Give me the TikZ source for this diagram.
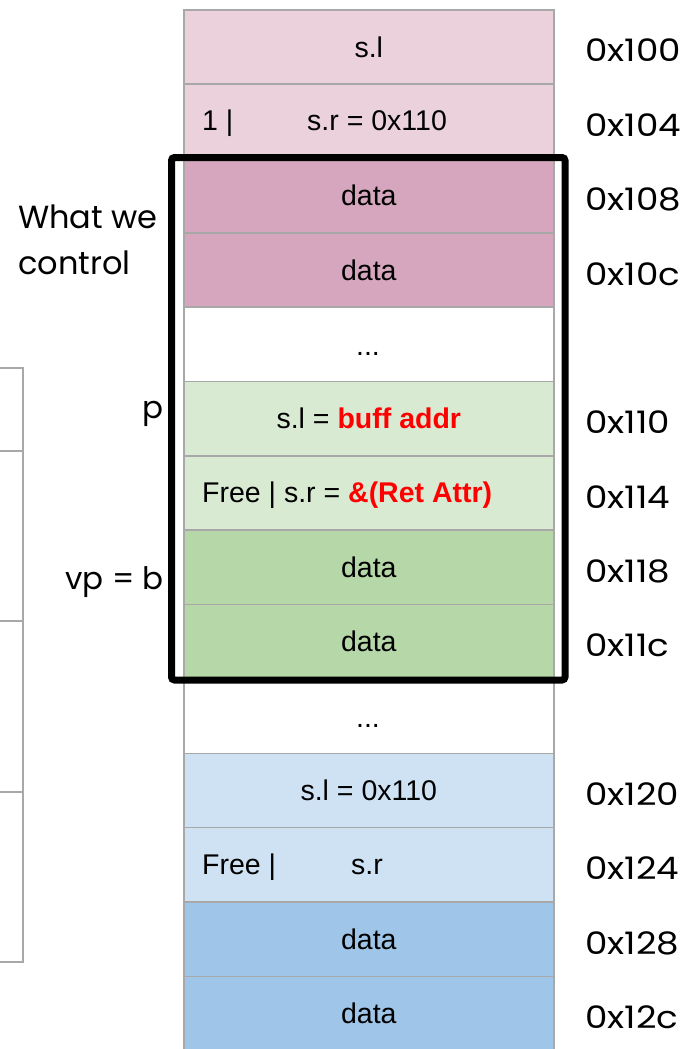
\documentclass[tikz,border=0pt]{standalone}
\usepackage{fontspec}
\setmainfont{Liberation Sans}
\newfontfamily\geofont{Poppins}
\newfontfamily\addrfont[FakeStretch=1.15]{Poppins}
\definecolor{cellgray}{HTML}{A8A8A8}
\definecolor{pinkA}{HTML}{EAD1DC}
\definecolor{pinkB}{HTML}{D5A6BD}
\definecolor{greenA}{HTML}{D9EAD3}
\definecolor{greenB}{HTML}{B6D7A8}
\definecolor{blueA}{HTML}{CFE2F3}
\definecolor{blueB}{HTML}{9FC5E8}
\definecolor{hot}{HTML}{FF0000}
\newcommand\cellfont{\fontsize{28.5}{34}\selectfont}
\newcommand\labfont{\geofont\fontsize{31}{40}\selectfont}
\newcommand\adfont{\addrfont\fontsize{31}{40}\selectfont}
\begin{document}
\begin{tikzpicture}[x=1pt,y=-1pt,
  cell/.style={draw=cellgray, line width=1.6pt, minimum width=370pt,
    minimum height=74.35pt, inner sep=0pt, font=\cellfont, anchor=north west},
  dots/.style={cell, fill=white, text depth=-8pt},
  inl/.style={anchor=base west, inner sep=0pt, font=\cellfont},
  addr/.style={anchor=base west, inner sep=0pt, font=\adfont},
  side/.style={anchor=base east, inner sep=0pt, font=\labfont},
  tbl/.style={draw=cellgray, line width=1.8pt}]
\useasboundingbox (0,0) rectangle (685,1049);
% left partial table
\coordinate (t0) at (-5,368);
\coordinate (t1) at (-5,451);
\coordinate (t2) at (-5,621);
\coordinate (t3) at (-5,792);
\coordinate (t4) at (-5,962);
\coordinate (v0) at (23,368);
\coordinate (v1) at (23,451);
\coordinate (v2) at (23,621);
\coordinate (v3) at (23,792);
\coordinate (v4) at (23,962);
\draw[tbl] (t0) -- (v0) -- (v4) -- (t4);
\draw[tbl] (t1) -- (v1);
\draw[tbl] (t2) -- (v2);
\draw[tbl] (t3) -- (v3);
% memory column
\node[cell, fill=pinkA]  (r0)  at (183,9.00)   {s.l};
\node[cell, fill=pinkA]  (r1)  at (183,83.35)  {};
\node[cell, fill=pinkB]  (r2)  at (183,157.70) {data};
\node[cell, fill=pinkB]  (r3)  at (183,232.05) {data};
\node[cell, fill=white]  (r4)  at (183,306.40) {};
\node[cell, fill=greenA] (r5)  at (183,380.75) {s.l = \textcolor{hot}{\bfseries buff addr}};
\node[cell, fill=greenA] (r6)  at (183,455.10) {};
\node[cell, fill=greenB] (r7)  at (183,529.45) {data};
\node[cell, fill=greenB] (r8)  at (183,603.80) {data};
\node[cell, fill=white]  (r9)  at (183,678.15) {};
\node[cell, fill=blueA]  (r10) at (183,752.50) {s.l = 0x110};
\node[cell, fill=blueA]  (r11) at (183,826.85) {};
\node[cell, fill=blueB]  (r12) at (183,901.20) {data};
\node[cell, fill=blueB]  (r13) at (183,975.55) {data};
% in-cell texts
\node[inl, anchor=base] (r4a) at (368,355) {...};
\node[inl, anchor=base] (r9a) at (368,727) {...};
\node[inl] (r1a) at (202,130.5) {1 |};
\node[inl] (r1b) at (307,130.5) {s.r = 0x110};
\node[inl] (r6a) at (202,502.3) {Free | s.r = \textcolor{hot}{\bfseries \&(Ret Attr)}};
\node[inl] (r11a) at (202,874) {Free |};
\node[inl] (r11b) at (351,874) {s.r};
% controlled region
\draw[line width=7pt, rounded corners=3pt] (171.5,157.5) rectangle (565,680);
% addresses
\node[addr] (a0)  at (585,62)  {0x100};
\node[addr] (a1)  at (585,136) {0x104};
\node[addr] (a2)  at (585,210) {0x108};
\node[addr] (a3)  at (585,285) {0x10c};
\node[addr] (a5)  at (585,433) {0x110};
\node[addr] (a6)  at (585,508) {0x114};
\node[addr] (a7)  at (585,582) {0x118};
\node[addr] (a8)  at (585,656) {0x11c};
\node[addr] (a10) at (585,805) {0x120};
\node[addr] (a11) at (585,879) {0x124};
\node[addr] (a12) at (585,954) {0x128};
\node[addr] (a13) at (585,1028) {0x12c};
% side labels
\node[side] (p) at (164,418) {p};
\node[side] (vp) at (164,589) {vp = b};
\node[anchor=north west, inner sep=0pt, align=left, font=\geofont\fontsize{32}{46}\selectfont] (ctl) at (18,205) {What we\\control};
\end{tikzpicture}
\end{document}
